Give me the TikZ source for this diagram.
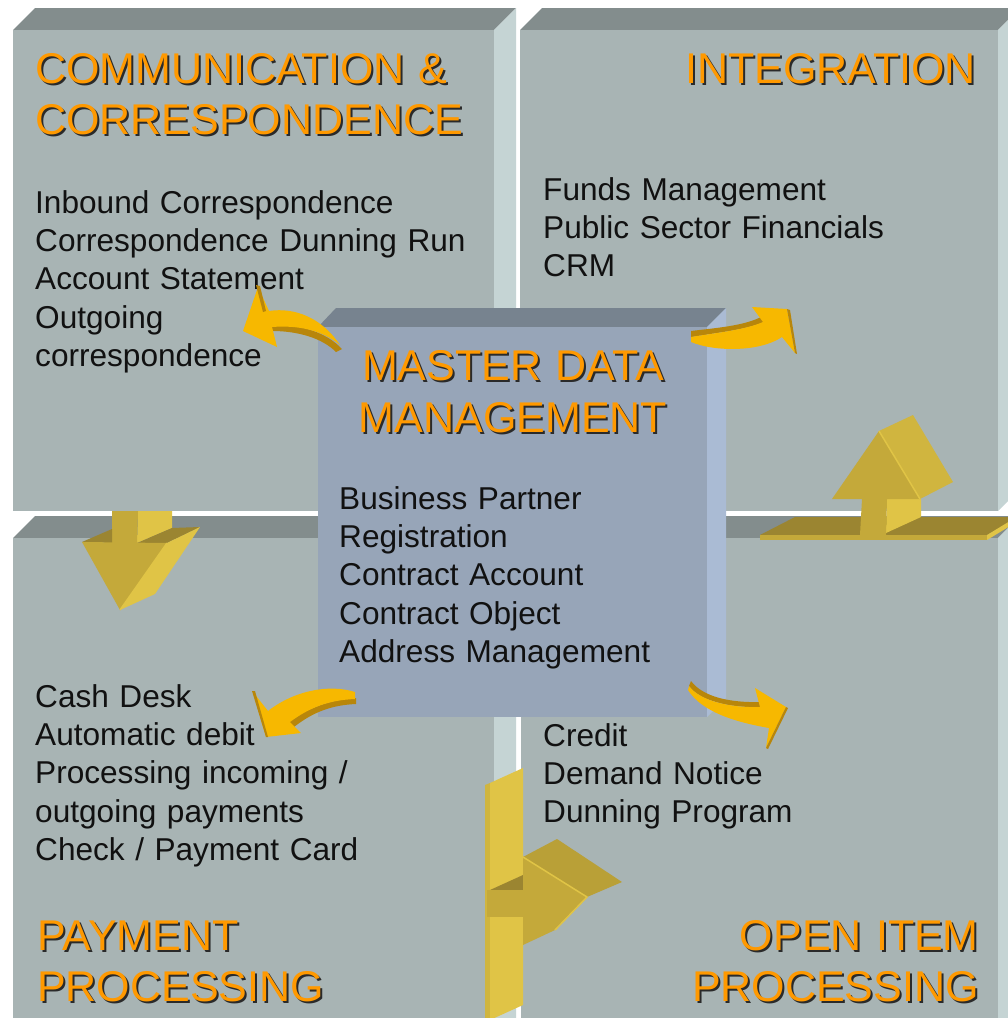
\documentclass[tikz,border=0pt]{standalone}
\usepackage{fontspec}
\setmainfont{Liberation Sans}
\definecolor{boxFront}{HTML}{A8B4B4}
\definecolor{boxTop}{HTML}{838D8D}
\definecolor{boxSide}{HTML}{C5D4D4}
\definecolor{cFront}{HTML}{97A5B8}
\definecolor{cTop}{HTML}{77838F}
\definecolor{cSide}{HTML}{AABBD4}
\definecolor{torange}{HTML}{FF9900}
\definecolor{tshadow}{HTML}{2A2A2A}
\definecolor{bodytext}{HTML}{111111}
\definecolor{gFront}{HTML}{C4A93A}
\definecolor{gLight}{HTML}{E0C446}
\definecolor{gMid}{HTML}{D0B53F}
\definecolor{gDark}{HTML}{9B8531}
\definecolor{gTop}{HTML}{B9A037}
\definecolor{cyel}{HTML}{F7B800}
\definecolor{cdark}{HTML}{B8860B}
\newcommand\ttl[1]{\leavevmode\rlap{\kern2pt\raisebox{-2pt}{\textcolor{tshadow}{#1}}}\textcolor{torange}{#1}}
\begin{document}
\begin{tikzpicture}[x=1pt,y=-1pt,
  body/.style={font=\fontsize{31.6}{38.4}\selectfont, text=bodytext, inner sep=0pt, text width=480pt, align=left, anchor=base west},
  ttlL/.style={font=\fontsize{43}{51}\selectfont, inner sep=0pt, text width=480pt, align=left, anchor=base west},
  ttlR/.style={font=\fontsize{43}{51}\selectfont, inner sep=0pt, text width=480pt, align=right, anchor=base east},
  ttlC/.style={font=\fontsize{43}{52}\selectfont, inner sep=0pt, text width=400pt, align=center, anchor=base},
  edgeline/.style={draw=gLight, line width=1.5pt}
]
\useasboundingbox (0,0) rectangle (1008,1018);
\fill[white] (0,0) rectangle (1008,1018);
\begin{scope}
\clip (0,0) rectangle (1008,1018);
% ---- top-left box
\fill[boxTop] (13,30) -- (35,8) -- (516,8) -- (494,30) -- cycle;
\fill[boxSide] (494,30) -- (516,8) -- (516,489) -- (494,511) -- cycle;
\fill[boxFront] (13,30) rectangle (494,511);
% ---- top-right box
\fill[boxTop] (520,30) -- (542,8) -- (1020,8) -- (998,30) -- cycle;
\fill[boxSide] (998,30) -- (1020,8) -- (1020,489) -- (998,511) -- cycle;
\fill[boxFront] (520,30) rectangle (998,511);
% ---- bottom-left box
\fill[boxTop] (13,538) -- (35,516) -- (516,516) -- (494,538) -- cycle;
\fill[boxSide] (494,538) -- (516,516) -- (516,1030) -- (494,1030) -- cycle;
\fill[boxFront] (13,538) rectangle (494,1030);
% ---- bottom-right box
\fill[boxTop] (521,538) -- (543,516) -- (1020,516) -- (998,538) -- cycle;
\fill[boxSide] (998,538) -- (1020,516) -- (1020,1030) -- (998,1030) -- cycle;
\fill[boxFront] (521,538) rectangle (998,1030);

% ---- down arrow (top-left to bottom-left)
\fill[gLight] (138,511) -- (172,511) -- (172,528) -- (137,543) -- cycle;
\fill[gFront] (112,511) -- (138,511) -- (137,543) -- (112,543) -- cycle;
\fill[gDark] (82,542) -- (112,529) -- (112,543) -- cycle;
\fill[gDark] (137,543) -- (172,528) -- (200,527) -- (167,543) -- cycle;
\fill[gFront] (82,542) -- (167,543) -- (120,610) -- cycle;
\fill[gLight] (167,543) -- (200,527) -- (155,594) -- (120,610) -- cycle;
\draw[edgeline] (167,543) -- (120,610);

% ---- up arrow (bottom-right to top-right)
\fill[gDark] (760,535) -- (795,517) -- (1010,517) -- (1010,522) -- (987,535) -- cycle;
\fill[gFront] (760,535) -- (987,535) -- (987,540) -- (760,540) -- cycle;
\fill[gLight] (987,535) -- (1010,521) -- (1010,526) -- (987,540) -- cycle;
\fill[gLight] (887,499) -- (921,499) -- (921,517) -- (886,533) -- cycle;
\fill[gFront] (862,499) -- (887,499) -- (886,535) -- (860,535) -- cycle;
\fill[gMid] (879,431) -- (913,415) -- (953,482) -- (920,499) -- cycle;
\fill[gFront] (832,499) -- (920,499) -- (879,431) -- cycle;
\draw[edgeline] (879,431) -- (920,499);

% ---- right arrow (bottom-left to bottom-right)
\fill[gMid] (485,785) -- (490,783) -- (490,1020) -- (485,1020) -- cycle;
\fill[gLight] (490,783) -- (523,768) -- (523,1005) -- (490,1020) -- cycle;
\fill[gDark] (490,890) -- (523,875) -- (523,890) -- cycle;
\fill[gFront] (487,890) rectangle (523,917);
\fill[gTop] (523,857) -- (557,839) -- (622,882) -- (587,897) -- cycle;
\fill[gFront] (523,857) -- (587,897) -- (555,930) -- (523,945) -- cycle;
\draw[edgeline] (523,857) -- (587,897) -- (555,930);
\end{scope}

% ---- texts of the four quadrants
\node[ttlL] (tCC) at (35,83) {\ttl{COMMUNICATION \&}\\\ttl{CORRESPONDENCE}};
\node[body] (bCC) at (35,213) {Inbound Correspondence\\Correspondence Dunning Run\\Account Statement\\Outgoing\\correspondence};
\node[ttlR] (tIN) at (976,83) {\ttl{INTEGRATION}};
\node[body] (bIN) at (543,200) {Funds Management\\Public Sector Financials\\CRM};
\node[body] (bPP) at (35,707) {Cash Desk\\Automatic debit\\Processing incoming /\\outgoing payments\\Check / Payment Card};
\node[ttlL] (tPP) at (37,950) {\ttl{PAYMENT}\\\ttl{PROCESSING}};
\node[body] (bOI) at (543,746) {Credit\\Demand Notice\\Dunning Program};
\node[ttlR] (tOI) at (979,950) {\ttl{OPEN ITEM}\\\ttl{PROCESSING}};

% ---- central box
\fill[cTop] (318,327) -- (336,308) -- (726,308) -- (707,327) -- cycle;
\fill[cSide] (707,327) -- (726,308) -- (726,698) -- (707,717) -- cycle;
\fill[cFront] (318,327) rectangle (707,717);
\node[ttlC] (tMD) at (513,380) {\ttl{MASTER DATA}\\\ttl{MANAGEMENT}};
\node[body] (bMD) at (339,509) {Business Partner\\Registration\\Contract Account\\Contract Object\\Address Management};

% ---- curved arrows
% upper-left
\fill[cdark] (271,325) .. controls (300,324) and (326,332) .. (342,349) -- (336,352) .. controls (322,338) and (298,331) .. (272,331) -- cycle;
\fill[cyel] (340,345) .. controls (322,318) and (295,307) .. (269,311) -- (258,287) -- (243,331) -- (277,347) -- (272,327) .. controls (298,325) and (322,330) .. (340,345) -- cycle;
\fill[cdark] (256,285) -- (260,286) -- (266,311) -- (263,312) -- cycle;
% upper-right
\fill[cdark] (691,331) .. controls (715,328) and (745,326) .. (763,316) -- (764,322) .. controls (745,330) and (715,333) .. (691,337) -- cycle;
\fill[cyel] (691,337) .. controls (715,333) and (745,330) .. (763,322) -- (752,307) -- (787,309) -- (795,353) -- (782,337) .. controls (760,352) and (715,352) .. (691,342) -- cycle;
\fill[cdark] (787,309) -- (790,310) -- (797,354) -- (795,353) -- cycle;
% lower-left
\fill[cdark] (288,722) .. controls (310,707) and (330,700) .. (356,698) -- (356,704) .. controls (332,705) and (313,712) .. (294,727) -- cycle;
\fill[cyel] (355,692) .. controls (330,684) and (295,690) .. (268,711) -- (253,692) -- (266,737) -- (301,733) -- (290,722) .. controls (310,707) and (330,700) .. (355,699) -- cycle;
\fill[cdark] (252,691) -- (255,691) -- (268,737) -- (266,737) -- cycle;
% lower-right
\fill[cdark] (691,681) .. controls (703,697) and (730,703) .. (762,702) -- (762,707) .. controls (730,708) and (700,701) .. (689,686) -- cycle;
\fill[cyel] (689,686) .. controls (700,701) and (730,708) .. (760,707) -- (755,688) -- (786,707) -- (766,748) -- (769,728) .. controls (735,722) and (702,712) .. (688,690) -- cycle;
\fill[cdark] (786,707) -- (788,708) -- (768,749) -- (766,748) -- cycle;
\end{tikzpicture}
\end{document}
